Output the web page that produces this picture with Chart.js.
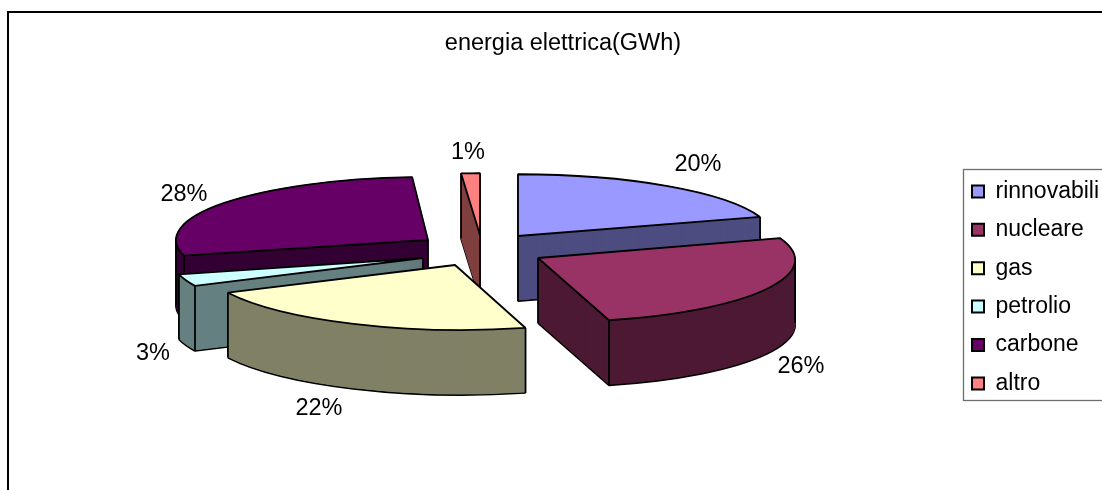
<!DOCTYPE html>
<html>
<head>
<meta charset="utf-8">
<style>
html,body{margin:0;padding:0;background:#fff;overflow:hidden}
#wrap{position:absolute;left:0;top:0;width:1102px;height:490px}
</style>
<script src="https://cdn.jsdelivr.net/npm/chart.js@4"></script>
</head>
<body>
<div id="wrap"><canvas id="c" width="1102" height="490"></canvas></div>
<script>
const title = 'energia elettrica(GWh)';
const categories = ['rinnovabili','nucleare','gas','petrolio','carbone','altro'];
const values = [20,26,22,3,28,1];
const topColors = ['#9999FF','#993366','#FFFFCC','#CCFFFF','#660066','#FF8080'];
const sideColors = ['#4D4D80','#4D1933','#808066','#668080','#330033','#804040'];

// 3D look: apex of each exploded slice, horizontal and vertical scale, perspective skew
const apexX = [518,538,455,423,428,480];
const apexY = [236,258,265,258,240,235];
const scaleX = [1.01,1.02,1.01,1.0,1.0,1.2];
const scaleY = [0.245,0.255,0.258,0.26,0.25,0.245];
const skewX = [0,0.113,0.115,0,0,0];
const depth = 65;
const drawOrder = [5,4,0,3,1,2];
const labelX = [698,801,319,153,184,468];
const labelY = [165,367,409,354,195,153];
const FONT = '"Liberation Sans", Arial, sans-serif';
const LINE = 1.8;

function withScreenStroke(ctx, fn){
  ctx.stroke = function(){
    ctx.save();
    ctx.setTransform(1,0,0,1,0,0);
    CanvasRenderingContext2D.prototype.stroke.call(ctx);
    ctx.restore();
  };
  fn();
  delete ctx.stroke;
}

const pie3d = {
  id:'pie3d',
  beforeDraw(chart){
    const ctx = chart.ctx;
    ctx.save();
    ctx.strokeStyle = '#000';
    ctx.lineWidth = 2;
    ctx.strokeRect(8,12,1200,600);
    ctx.strokeStyle = '#6e6e6e';
    ctx.lineWidth = 1.3;
    ctx.strokeRect(963.5,169.5,300,231);
    ctx.restore();
  },
  afterLayout(chart){
    const l = chart.legend;
    const w = l.right-l.left;
    l.left = 956.6; l.right = 956.6+w; l.top = 164.5;
    l.bottom = 490;
  },
  beforeDatasetDraw(chart,args){
    const ctx = chart.ctx;
    const arcs = args.meta.data;
    withScreenStroke(ctx,()=>{
      drawOrder.forEach(i=>{
        const arc = arcs[i], base = arc.options;
        const place = d=>{
          ctx.setTransform(1,0,0,1,0,0);
          ctx.translate(apexX[i],apexY[i]+d);
          ctx.transform(1,0,skewX[i],1,0,0);
          ctx.scale(scaleX[i],scaleY[i]);
          ctx.translate(-arc.x,-arc.y);
        };
        ctx.save();
        // bottom outline
        arc.options = Object.assign({},base,{backgroundColor:sideColors[i],borderColor:'#000',borderWidth:LINE});
        place(depth); arc.draw(ctx);
        // wall sweep
        arc.options = Object.assign({},base,{backgroundColor:sideColors[i],borderColor:sideColors[i],borderWidth:0.8});
        for(let d=depth-1;d>=0;d--){ place(d); arc.draw(ctx); }
        // vertical edges
        ctx.setTransform(1,0,0,1,0,0);
        ctx.strokeStyle='#000'; ctx.lineWidth=LINE;
        const R = arc.outerRadius, s = arc.startAngle, e = arc.endAngle;
        const edge = (a)=>{
          const dy = Math.sin(a)*R*scaleY[i];
          const x = apexX[i]+Math.cos(a)*R*scaleX[i]+skewX[i]*dy;
          const y = apexY[i]+dy;
          ctx.beginPath();ctx.moveTo(x,y);ctx.lineTo(x,y+depth);ctx.stroke();
        };
        const endWall = Math.cos(e)>1e-6, startWall = Math.cos(s)<-1e-6;
        if(endWall||Math.sin(e)>0) edge(e);
        if(startWall||Math.sin(s)>0) edge(s);
        if(endWall||startWall){
          ctx.beginPath();ctx.moveTo(apexX[i],apexY[i]);ctx.lineTo(apexX[i],apexY[i]+depth);ctx.stroke();
        }
        for(const a of [0,Math.PI,2*Math.PI]){ if(a>s&&a<e) edge(a); }
        // top face
        arc.options = Object.assign({},base,{backgroundColor:topColors[i],borderColor:'#000',borderWidth:LINE});
        place(0); arc.draw(ctx);
        arc.options = base;
        ctx.restore();
      });
    });
    return false;
  },
  afterDatasetsDraw(chart){
    const ctx = chart.ctx;
    ctx.save();
    ctx.font = '23.5px '+FONT;
    ctx.fillStyle = '#000';
    ctx.textAlign = 'center';
    ctx.textBaseline = 'middle';
    const total = values.reduce((a,b)=>a+b,0);
    values.forEach((v,i)=>ctx.fillText(Math.round(v/total*100)+'%',labelX[i],labelY[i]));
    ctx.restore();
  }
};

new Chart(document.getElementById('c'),{
  type:'pie',
  data:{labels:categories,datasets:[{data:values,backgroundColor:topColors,borderColor:'#000',borderWidth:LINE}]},
  plugins:[pie3d],
  options:{
    responsive:false,
    animation:false,
    events:[],
    radius:252,
    layout:{padding:{left:24,top:0}},
    plugins:{
      tooltip:{enabled:false},
      title:{display:true,text:title,color:'#000',font:{family:FONT,size:23.5,weight:'normal'},padding:{top:29,bottom:20}},
      legend:{
        position:'right',align:'start',
        labels:{
          color:'#000',font:{family:FONT,size:23},boxWidth:12,boxHeight:12,padding:15.4,
          generateLabels(chart){
            return categories.map((c,i)=>({text:c,fillStyle:topColors[i],strokeStyle:'#000',lineWidth:2,index:i}));
          }
        }
      }
    }
  }
});
</script>
</body>
</html>
